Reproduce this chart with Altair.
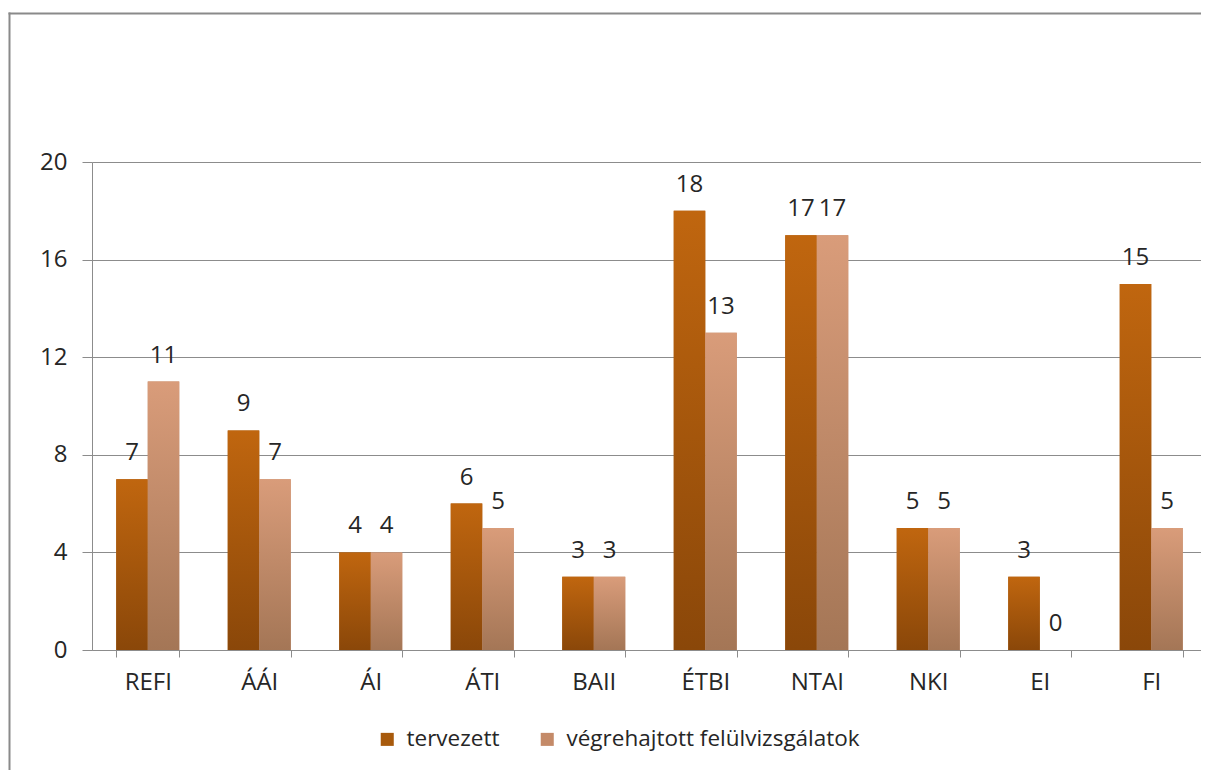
import altair as alt
import pandas as pd

categories = ["REFI", "ÁÁI", "ÁI", "ÁTI", "BAII", "ÉTBI", "NTAI", "NKI", "EI", "FI"]
series = ["tervezett", "végrehajtott felülvizsgálatok"]
planned = [7, 9, 4, 6, 3, 18, 17, 5, 3, 15]
executed = [11, 7, 4, 5, 3, 13, 17, 5, 0, 5]
y_ticks = [0, 4, 8, 12, 16, 20]

rows = []
for c, p, e in zip(categories, planned, executed):
    rows.append({"cat": c, "series": series[0], "value": p})
    rows.append({"cat": c, "series": series[1], "value": e})
df = pd.DataFrame(rows)

FONT = "Open Sans"
GRID = "#8C8C8C"
TXT = "#262626"
W, H = 1115, 488

grad_dark = {"gradient": "linear", "x1": 0, "y1": 0, "x2": 0, "y2": 1,
             "stops": [{"offset": 0, "color": "#C0660F"}, {"offset": 1, "color": "#8A4709"}]}
grad_light = {"gradient": "linear", "x1": 0, "y1": 0, "x2": 0, "y2": 1,
              "stops": [{"offset": 0, "color": "#D99C7A"}, {"offset": 1, "color": "#A47656"}]}

x_enc = alt.X("cat:N", sort=categories, title=None,
              scale=alt.Scale(paddingInner=0.435, paddingOuter=0.2175),
              axis=alt.Axis(labelAngle=0, tickBand="extent", tickSize=7, tickColor=GRID,
                            domainColor=GRID, labelFontSize=24, labelColor=TXT,
                            labelPadding=13, labelFont=FONT, grid=False))
xo_enc = alt.XOffset("series:N", sort=series, scale=alt.Scale(paddingInner=0, paddingOuter=0))
y_enc = alt.Y("value:Q", title=None, scale=alt.Scale(domain=[0, 20], nice=False),
              axis=alt.Axis(values=y_ticks, tickSize=10, tickColor=GRID, domainColor=GRID,
                            gridColor=GRID, grid=True, labelFontSize=24, labelColor=TXT,
                            labelPadding=15, labelFont=FONT))

base = alt.Chart(df)

flat = base.mark_bar().encode(
    x=x_enc, xOffset=xo_enc, y=y_enc,
    color=alt.Color("series:N", sort=series, title=None,
                    scale=alt.Scale(domain=series, range=["#A85A0C", "#C48A68"]),
                    legend=alt.Legend(orient="none", legendX=284, legendY=566,
                                      direction="horizontal", symbolType="square",
                                      symbolSize=170, symbolStrokeWidth=0,
                                      labelFontSize=22.5, labelFont=FONT, labelColor=TXT,
                                      labelOffset=8, columnPadding=36, labelLimit=400))
)

dark = base.transform_filter(alt.datum.series == series[0]).mark_bar(color=grad_dark).encode(
    x=x_enc, xOffset=xo_enc, y=y_enc)
light = base.transform_filter(alt.datum.series == series[1]).mark_bar(color=grad_light).encode(
    x=x_enc, xOffset=xo_enc, y=y_enc)

labels = base.mark_text(dy=-19, baseline="alphabetic", fontSize=24, font=FONT, color=TXT).encode(
    x=x_enc, xOffset=xo_enc, y=y_enc, text="value:Q")

one = alt.Data(values=[{"f": 1}])
frame_top = alt.Chart(one).mark_rule(stroke="#8A8A8A", strokeWidth=2).encode(
    x=alt.value(-83.5), x2=alt.value(W + 60), y=alt.value(-148.5))
frame_left = alt.Chart(one).mark_rule(stroke="#8A8A8A", strokeWidth=2).encode(
    x=alt.value(-82.5), y=alt.value(-149.5), y2=alt.value(H + 150))

chart = alt.layer(frame_top, frame_left, flat, dark, light, labels).properties(
    width=W, height=H,
    autosize=alt.AutoSizeParams(type="none"),
    padding={"left": 84, "top": 154, "right": -6, "bottom": 120},
).configure_view(stroke=None).configure(font=FONT)

chart.save("out.html", embed_options={"renderer": "svg", "actions": False})
